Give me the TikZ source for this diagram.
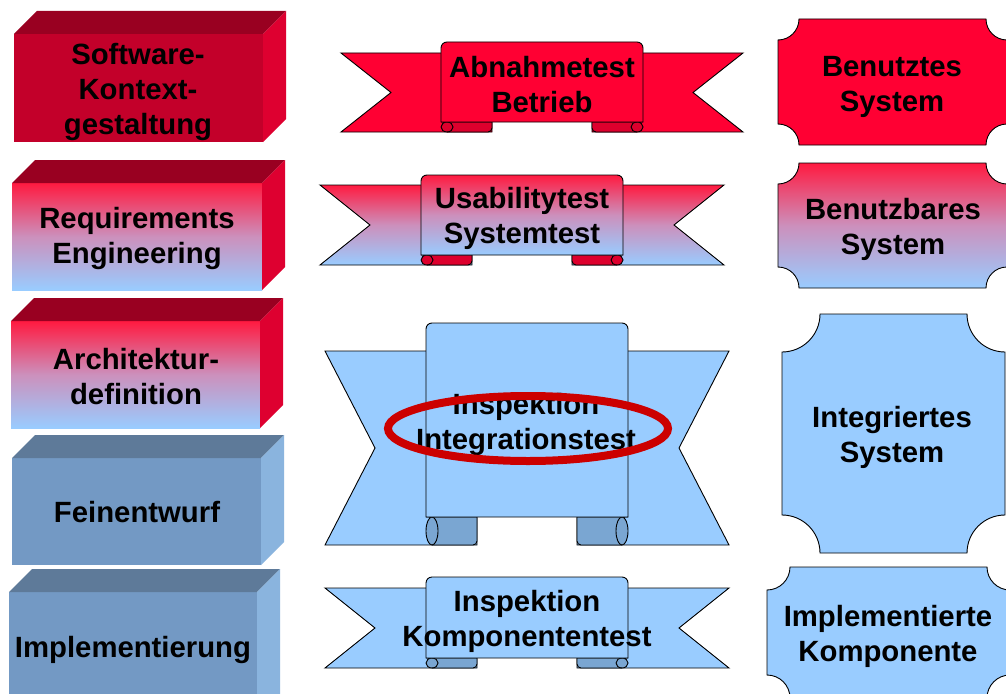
\documentclass[tikz,border=0pt]{standalone}
\usepackage{fontspec}
\setmainfont{Liberation Sans}

\definecolor{hired}{HTML}{FF0033}
\definecolor{skyblue}{HTML}{99CCFF}
\definecolor{gradtop}{HTML}{FF1A40}
\definecolor{gradmid}{HTML}{CC90BC}
\definecolor{cubefront}{HTML}{C3002A}
\definecolor{cubetop}{HTML}{990021}
\definecolor{cubeside}{HTML}{DE0030}
\definecolor{steelfront}{HTML}{7399C4}
\definecolor{steeltop}{HTML}{5E7A99}
\definecolor{steelside}{HTML}{8AB4DE}
\definecolor{foldred}{HTML}{DD002D}
\definecolor{foldblue}{HTML}{7AA6D2}
\definecolor{markred}{HTML}{CC0000}

\tikzset{
  txt/.style={font=\fontsize{29.3}{35}\selectfont\bfseries, align=center, inner sep=0pt, text=black},
  outline/.style={draw=black, line width=0.9pt},
  gradfill/.style={top color=gradtop, bottom color=skyblue, middle color=gradmid},
  rolline/.style={draw=black, line width=0.9pt},
}

% 3D block: front face, top face, right side face (depth 23)
\newcommand{\blockcube}[7]{%
  \path[#5] (#1,#2) rectangle (#3,#4);
  \path[fill=#6] (#1,#2) -- ({#1+23},{#2-23}) -- ({#3+23},{#2-23}) -- (#3,#2) -- cycle;
  \path[fill=#7] (#3,#2) -- ({#3+23},{#2-23}) -- ({#3+23},{#4-23}) -- (#3,#4) -- cycle;
}

% plaque: rectangle with concave quarter-circle corners
\newcommand{\plaque}[6]{%
  \path[#6] ({#1+#5},#2) -- ({#3-#5},#2)
    arc[start angle=180,end angle=90,radius=#5] -- (#3,{#4-#5})
    arc[start angle=270,end angle=180,radius=#5] -- ({#1+#5},#4)
    arc[start angle=0,end angle=-90,radius=#5] -- (#1,{#2+#5})
    arc[start angle=90,end angle=0,radius=#5] -- cycle;
}

% ribbon banner: outer x, tail top, panel left, panel right, panel top,
% panel bottom, fold bottom
\newcommand{\ribbon}[7]{%
  \path[tailstyle] (#1,#2) -- ({#3+51},#2) -- ({#3+51},#7) -- (#1,#7)
    -- ({#1+50},{(#2+#7)/2}) -- cycle;
  \path[tailstyle] ({#3+#4-#1},#2) -- ({#4-51},#2) -- ({#4-51},#7)
    -- ({#3+#4-#1},#7) -- ({#3+#4-#1-50},{(#2+#7)/2}) -- cycle;
  \path[foldstyle] (#3,#6) -- ({#3+51},#6) -- ({#3+51},{#7-4})
    arc[start angle=0,end angle=90,radius=4] -- ({#3+6},#7)
    arc[start angle=90,end angle=270,x radius=6,y radius={(#7-#6)/2}] -- cycle;
  \path[rolline] ({#3+6},#6)
    arc[start angle=-90,end angle=90,x radius=6,y radius={(#7-#6)/2}];
  \path[foldstyle] (#4,#6) -- ({#4-51},#6) -- ({#4-51},{#7-4})
    arc[start angle=180,end angle=90,radius=4] -- ({#4-6},#7)
    arc[start angle=90,end angle=-90,x radius=6,y radius={(#7-#6)/2}] -- cycle;
  \path[rolline] ({#4-6},#6)
    arc[start angle=270,end angle=90,x radius=6,y radius={(#7-#6)/2}];
  \path[panelstyle] (#3,#6) -- (#3,{#5+6})
    arc[start angle=180,end angle=270,radius=6] -- ({#4-6},#5)
    arc[start angle=270,end angle=360,radius=6] -- (#4,#6) -- cycle;
}

\begin{document}
\begin{tikzpicture}[x=1pt,y=-1pt]
\useasboundingbox (0,0) rectangle (1006,693);
\clip (0,0) rectangle (1006,693);
\fill[white] (0,0) rectangle (1006,693);

% ---- phase blocks (left column)
\blockcube{14}{34}{263}{142}{fill=cubefront}{cubetop}{cubeside}
\blockcube{12}{183}{262}{290}{gradfill}{cubetop}{cubeside}
\blockcube{11}{321}{260}{428}{gradfill}{cubetop}{cubeside}
\blockcube{12}{458}{261}{565}{fill=steelfront}{steeltop}{steelside}
\blockcube{9}{592}{257}{720}{fill=steelfront}{steeltop}{steelside}

% ---- test banners (middle column)
\begin{scope}[tailstyle/.style={outline,fill=hired},
              foldstyle/.style={outline,fill=foldred},
              panelstyle/.style={outline,fill=hired}]
  \ribbon{341}{53}{441}{643}{42}{122}{132}
\end{scope}
\begin{scope}[tailstyle/.style={outline,gradfill},
              foldstyle/.style={outline,fill=foldred},
              panelstyle/.style={outline,gradfill}]
  \ribbon{320}{185}{421}{623}{175}{255}{265}
\end{scope}
\begin{scope}[tailstyle/.style={outline,fill=skyblue},
              foldstyle/.style={outline,fill=foldblue},
              panelstyle/.style={outline,fill=skyblue}]
  \ribbon{325}{351}{426}{628}{323}{517}{545}
  \ribbon{325}{588}{426}{628}{577}{658}{668}
\end{scope}

% ---- result plaques (right column)
\plaque{778}{19}{1007}{145}{21}{outline,fill=hired}
\plaque{778}{163}{1007}{288}{21}{outline,gradfill}
\plaque{782}{314}{1005}{553}{38}{outline,fill=skyblue}
\plaque{767}{567}{1010}{698}{23}{outline,fill=skyblue}

% ---- labels
\node[txt] (ctx) at (138,92) {Software-\\Kontext-\\gestaltung};
\node[txt] (req) at (137,238.5) {Requirements\\Engineering};
\node[txt] (arch) at (136,376.5) {Architektur-\\definition};
\node[txt] (fein) at (137,512) {Feinentwurf};
\node[txt] (impl) at (133,650) {Implementierung};

\node[txt] (abn) at (542,84.5) {Abnahmetest\\Betrieb};
\node[txt] (usa) at (522,218) {Usabilitytest\\Systemtest};
\node[txt] (integ) at (526,424) {Inspektion\\Integrationstest};
\node[txt] (komp) at (527,621.5) {Inspektion\\Komponententest};

\node[txt] (benutzt) at (892,86.5) {Benutztes\\System};
\node[txt] (benutzbar) at (893,229.5) {Benutzbares\\System};
\node[txt] (integriert) at (892,437.5) {Integriertes\\System};
\node[txt] (implkomp) at (888,636) {Implementierte\\Komponente};

% ---- highlight around the integration test
\draw[markred, line width=8pt] (528,428.5) ellipse [x radius=140, y radius=32.5];
\end{tikzpicture}
\end{document}
